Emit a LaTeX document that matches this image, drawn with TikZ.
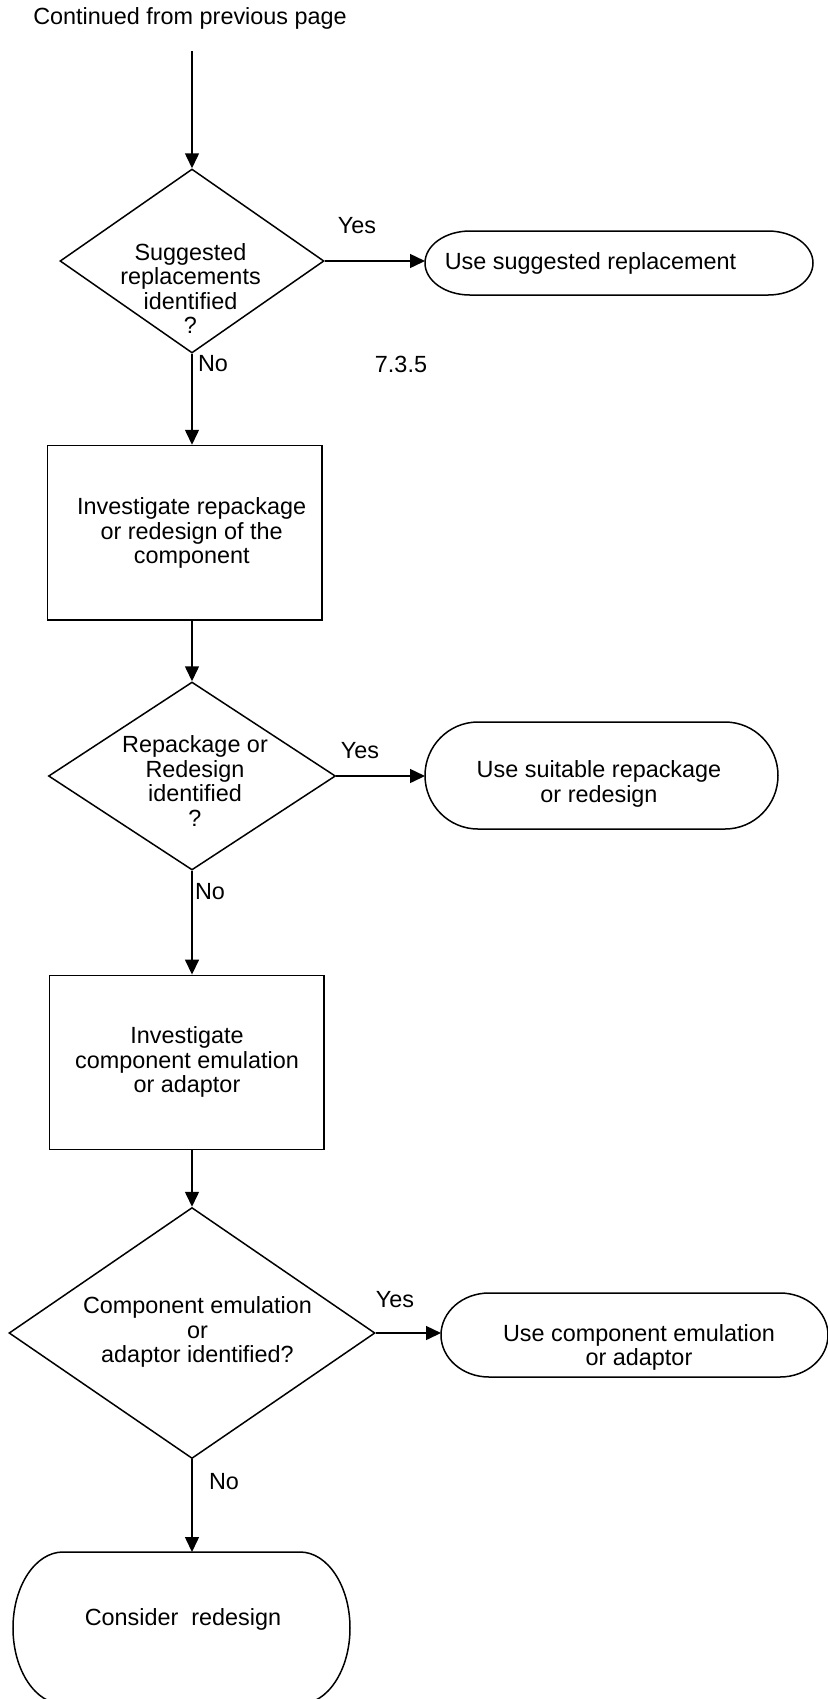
\documentclass[tikz,border=0pt]{standalone}
\usepackage{fontspec}
\setmainfont{Liberation Sans}
\usetikzlibrary{shapes.geometric,arrows.meta}

% Terminal: an invisible anchor box plus an outline with elliptical ends.
% #1 name, #2 centre x, #3 centre y, #4 width, #5 height, #6 end radius (px)
\newcommand\terminal[6]{%
  \node[termbox, minimum width=#4*0.5pt, minimum height=#5*0.5pt] (#1) at (#2,#3) {};
  \draw[shapeline] ({#2+#4/2-#6},{#3+#5/2})
    arc[start angle=90, end angle=-90, x radius=#6*0.5pt, y radius=#5*0.25pt]
    -- ({#2-#4/2+#6},{#3-#5/2})
    arc[start angle=270, end angle=90, x radius=#6*0.5pt, y radius=#5*0.25pt]
    -- cycle;}

\begin{document}
\begin{tikzpicture}[x=0.5pt, y=0.5pt,
  shapeline/.style={line width=0.75pt, line join=miter},
  decision/.style={shapeline, draw, diamond, inner sep=0pt},
  process/.style={shapeline, draw, rectangle, inner sep=0pt},
  termbox/.style={rectangle, inner sep=0pt, outer sep=0pt},
  txt/.style={font=\fontsize{11.7}{12.2}\selectfont, align=center, inner sep=0pt},
  flow/.style={line width=0.75pt, -{Triangle[length=7.5pt, width=7pt]}},
]
\useasboundingbox (0,0) rectangle (827,-1699);
\fill[white] (0,0) rectangle (827,-1699);

% header and entry point
\node[txt] (cont) at (190,-18.5) {Continued from previous page};
\coordinate (s0) at (192,-51);

% first decision
\node[decision, minimum width=132pt, minimum height=92pt] (d1) at (192,-261) {};
\node[txt] (d1t) at (190.5,-288.5) {Suggested\\replacements\\identified\\?};
\node[txt] (y1) at (357,-226) {Yes};
\terminal{t1}{619}{-263}{388}{64}{45}
\node[txt] (t1t) at (590.5,-263) {Use suggested replacement};
\node[txt] (n1) at (213,-364) {No};
\node[txt] (ref) at (401,-364) {7.3.5};

% repackage / redesign
\node[process, minimum width=137.25pt, minimum height=87.25pt] (r1) at (184.75,-532.75) {};
\node[txt] (r1t) at (191.7,-533) {Investigate repackage\\or redesign of the\\component};
\node[decision, minimum width=143.5pt, minimum height=94pt] (d2) at (192,-776) {};
\node[txt] (d2t) at (195,-781) {Repackage or\\Redesign\\identified\\?};
\node[txt] (y2) at (360,-751) {Yes};
\terminal{t2}{601.5}{-775.5}{353}{107}{53}
\node[txt] (t2t) at (599,-784) {Use suitable repackage\\or redesign};
\node[txt] (n2) at (210,-892) {No};

% emulation / adaptor
\node[process, minimum width=137.35pt, minimum height=87pt] (r2) at (186.65,-1062.3) {};
\node[txt] (r2t) at (187,-1062) {Investigate\\component emulation\\or adaptor};
\node[decision, minimum width=183pt, minimum height=125.5pt] (d3) at (192,-1333) {};
\node[txt] (d3t) at (197.5,-1332) {Component emulation\\or\\adaptor identified?};
\node[txt] (y3) at (395,-1300) {Yes};
\terminal{t3}{634.5}{-1335}{387}{84}{48}
\node[txt] (t3t) at (639,-1347.5) {Use component emulation\\or adaptor};
\node[txt] (n3) at (224,-1482) {No};

% final outcome
\terminal{t4}{181.5}{-1628}{337}{152}{50}
\node[txt] (t4t) at (183,-1619) {Consider~~redesign};

% connectors
\draw[flow] (s0) -- (d1.north);
\draw[flow] (d1.east) -- (d1.east -| t1.west);
\draw[flow] (d1.south) -- (d1.south |- r1.north);
\draw[flow] (r1.south -| d2.north) -- (d2.north);
\draw[flow] (d2.east) -- (d2.east -| t2.west);
\draw[flow] (d2.south) -- (d2.south |- r2.north);
\draw[flow] (r2.south -| d3.north) -- (d3.north);
\draw[flow] (d3.east) -- (d3.east -| t3.west);
\draw[flow] (d3.south) -- (d3.south |- t4.north);
\end{tikzpicture}
\end{document}
